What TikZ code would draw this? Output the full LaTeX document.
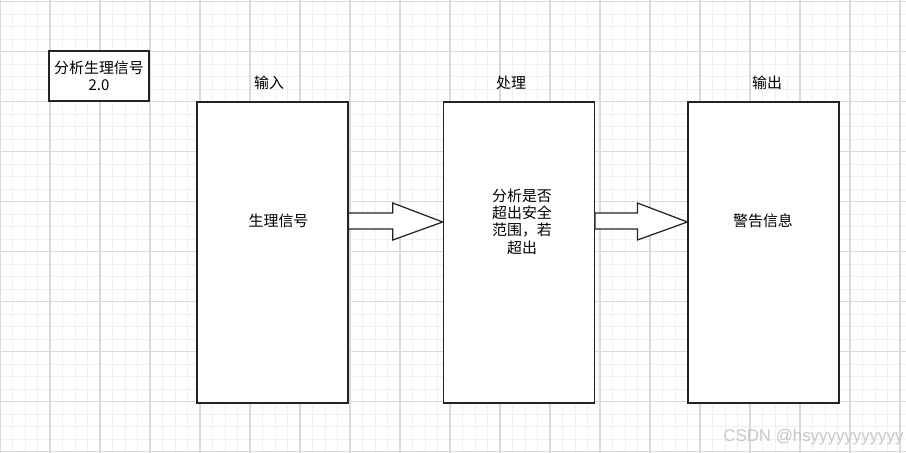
\documentclass[tikz,border=0pt]{standalone}
\usepackage{fontspec}
\setmainfont{Liberation Sans}
\newfontfamily\cjk{Noto Sans CJK SC}
\usetikzlibrary{calc}
\definecolor{gridmajor}{RGB}{218,218,218}
\definecolor{gridminor}{RGB}{240,240,240}
\definecolor{boxline}{RGB}{35,35,35}
\definecolor{wmark}{RGB}{200,200,200}

\begin{document}
\begin{tikzpicture}[x=0.02cm,y=-0.02cm,
  box/.style={draw=boxline,line width=0.7pt,fill=white,inner sep=0pt,
    minimum width=3.02cm,minimum height=6.02cm},
  lbl/.style={font=\cjk\fontsize{8.5}{9.9}\selectfont,inner sep=0pt,align=center},
  fatarrow/.style={draw=boxline,line width=0.7pt,fill=white,line join=miter}]
  \useasboundingbox (0,0) rectangle (906,453);
  \fill[white] (0,0) rectangle (906,453);
  % background grid
  \foreach \gx in {0,12.5,...,906} \draw[gridminor,line width=0.5pt] (\gx,0) -- (\gx,453);
  \foreach \gy in {1.5,14,...,453} \draw[gridminor,line width=0.5pt] (0,\gy) -- (906,\gy);
  \foreach \gx in {0,50,...,906} \draw[gridmajor,line width=0.6pt] (\gx,0) -- (\gx,453);
  \foreach \gy in {1.5,51.5,...,453} \draw[gridmajor,line width=0.6pt] (0,\gy) -- (906,\gy);
  \node[box,lbl,minimum width=2cm,minimum height=1cm] (title) at (99,76) {分析生理信号\\2.0};
  \node[box] (inbox) at (272.5,252.5) {};
  \node[box] (procbox) at (518.8,252.5) {};
  \node[box] (outbox) at (763.5,252.5) {};
  \node[lbl] (inhead) at (269,83) {输入};
  \node[lbl] (prochead) at (511,83) {处理};
  \node[lbl] (outhead) at (767,83) {输出};
  \node[lbl] (intext) at (278.5,221) {生理信号};
  \node[lbl] (proctext) at (522,221.5) {分析是否\\超出安全\\范围，若\\超出};
  \node[lbl] (outtext) at (763,221) {警告信息};
  \foreach \s/\t in {inbox/procbox,procbox/outbox}{
    \draw[fatarrow] ($(\s.east)+(0,-39.5)$) -- ($(\t.west)+(-50,-39.5)$)
      -- ($(\t.west)+(-50,-49.5)$) -- ($(\t.west)+(0,-30.5)$)
      -- ($(\t.west)+(-50,-12.5)$) -- ($(\t.west)+(-50,-23.5)$)
      -- ($(\s.east)+(0,-23.5)$) -- cycle;
  }
  \node[font=\fontsize{9.6}{11}\selectfont,text=wmark,anchor=west,inner sep=0pt] (wm) at (723,437) {CSDN @hsyyyyyyyyyyy};
\end{tikzpicture}
\end{document}
